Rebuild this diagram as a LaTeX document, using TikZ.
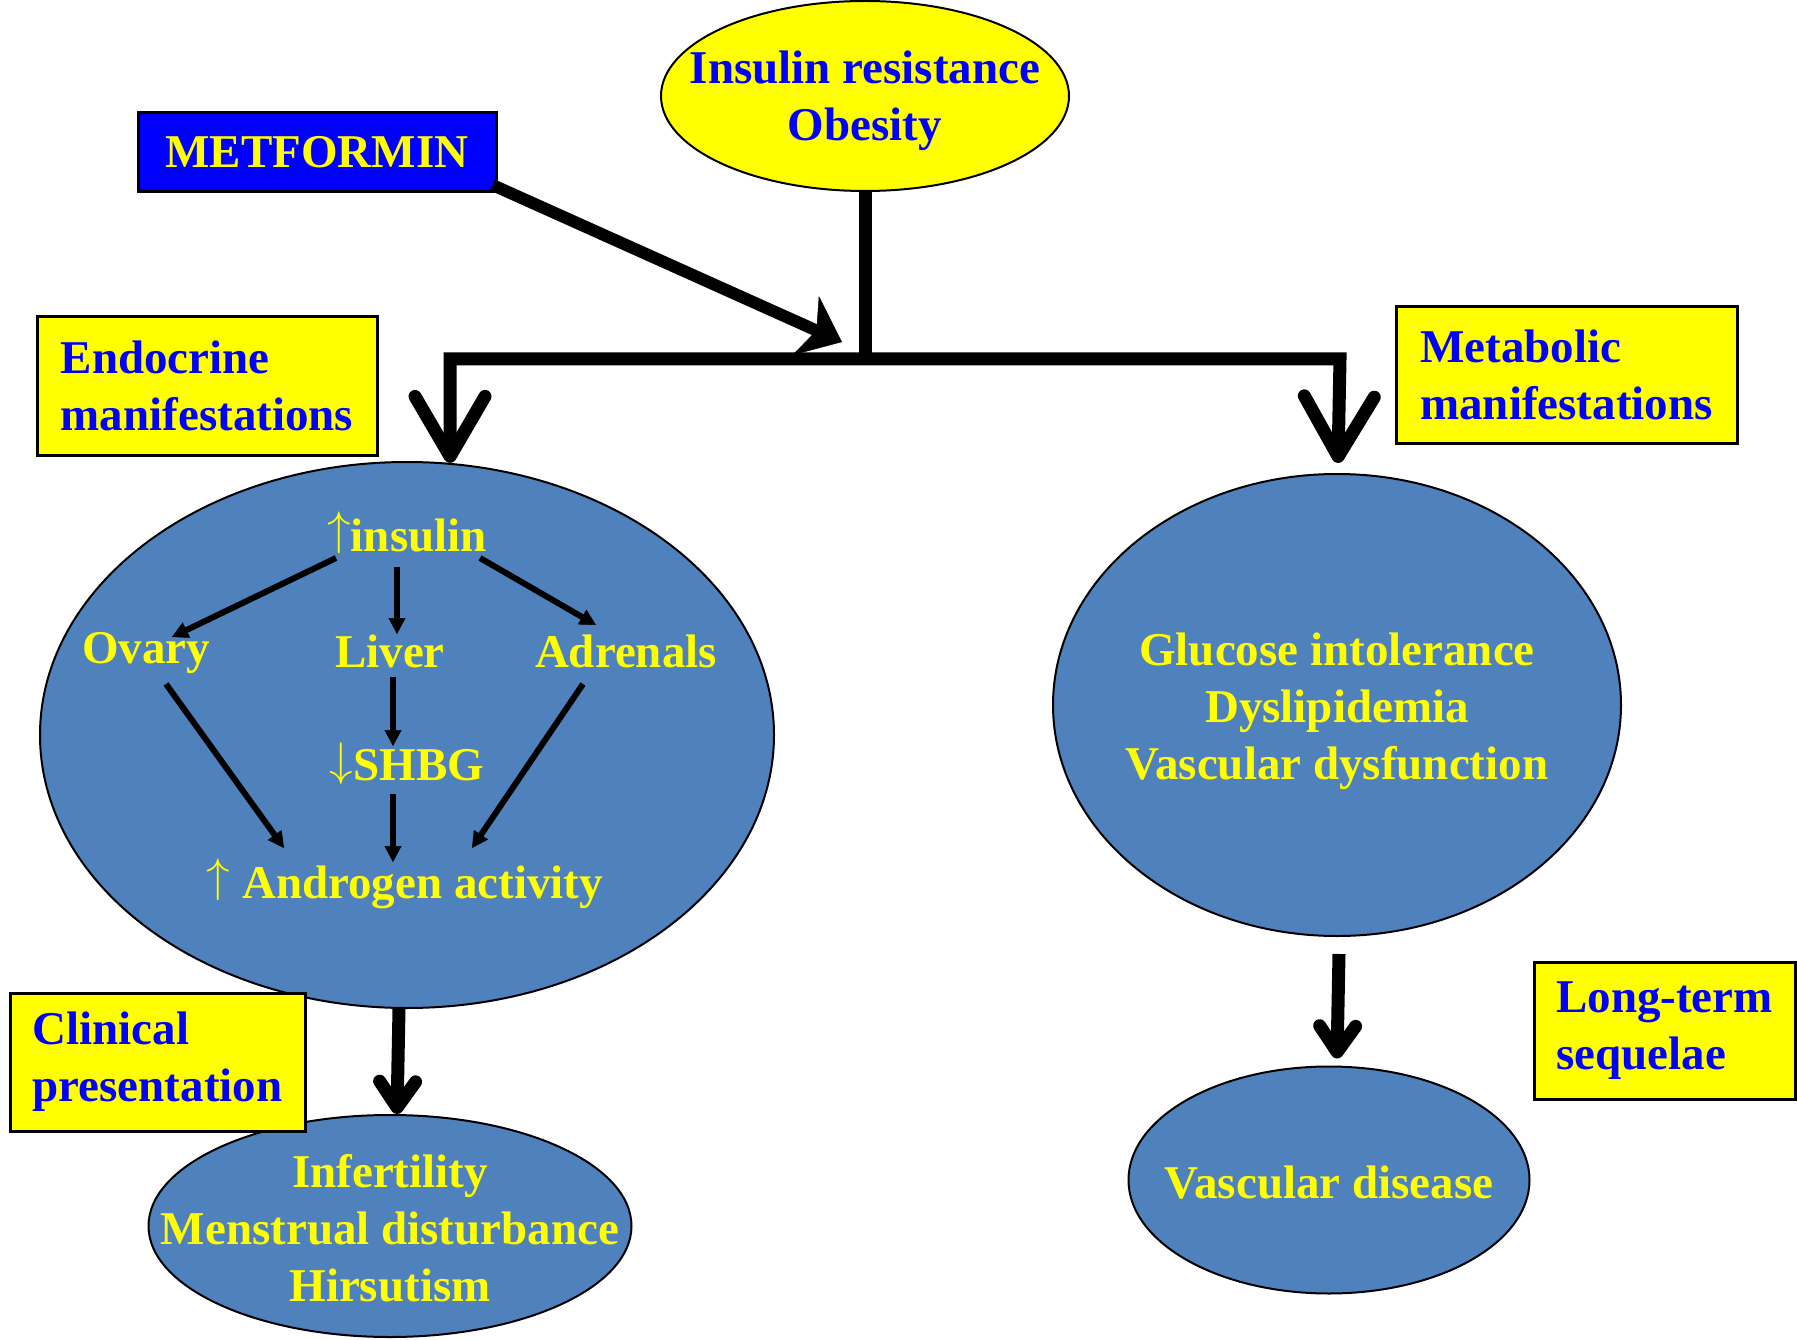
\documentclass[tikz,border=0pt]{standalone}
\usepackage{fix-cm}
\usepackage{fontspec}
\setmainfont{Liberation Serif}
\usetikzlibrary{arrows.meta,shapes.geometric}
\definecolor{ellblue}{RGB}{79,129,189}
\definecolor{txtblue}{RGB}{0,0,255}
\definecolor{yel}{RGB}{255,255,0}
\definecolor{metblue}{RGB}{0,0,255}
\newcommand{\myup}{\raisebox{0.14em}{$\uparrow$}}
\newcommand{\mydown}{\raisebox{0.1em}{$\downarrow$}}
\begin{document}
\begin{tikzpicture}[x=1pt,y=-1pt,
  every node/.style={font=\bfseries\fontsize{47}{57}\selectfont, inner sep=0pt},
  ell/.style={ellipse, draw=black, line width=2pt, fill=ellblue},
  ybox/.style={rectangle, draw=black, line width=3pt, fill=yel, text=txtblue, align=left},
  ytxt/.style={text=yel, align=center},
  mainline/.style={line width=13pt},
  bothbarb/.style={mainline, {Straight Barb[round, length=60pt, width=70pt]}-{Straight Barb[round, length=60pt, width=70pt]}},
  smallbarb/.style={mainline, -{Straight Barb[round, length=26pt, width=36pt]}},
  metarrow/.style={line width=12pt, -{Stealth[length=40pt, width=65pt, inset=12pt, line width=0.5pt]}},
  inarrow/.style={line width=6pt, -{Triangle[length=16pt, width=17pt, line width=0.5pt]}}
]
\useasboundingbox[fill=white] (0,0) rectangle (1797,1340);

% ellipses
\node[ell, fill=yel, minimum width=408pt, minimum height=190pt] (ir) at (865,96) {};
\node[ell, minimum width=734pt, minimum height=546pt] (endo) at (407,735) {};
\node[ell, minimum width=568pt, minimum height=462pt] (meta) at (1337,705) {};
\node[ell, minimum width=483pt, minimum height=222pt] (clin) at (390,1226) {};
\node[ell, minimum width=401pt, minimum height=227pt] (vasc) at (1329,1180) {};

% texts in ellipses
\node[text=txtblue, align=center] (irt) at (865,101) {Insulin resistance\\Obesity};
\node[ytxt] (glu) at (1337,711) {Glucose intolerance\\Dyslipidemia\\Vascular dysfunction};
\node[ytxt] (inf) at (390,1228) {Infertility\\Menstrual disturbance\\Hirsutism};
\node[ytxt] (vd) at (1329,1183) {Vascular disease};

\node[ytxt] (ins) at (407,533) {\myup insulin};
\node[ytxt] (ov) at (146,653) {Ovary};
\node[ytxt] (liv) at (390,651) {Liver};
\node[ytxt] (adr) at (626,651) {Adrenals};
\node[ytxt] (shbg) at (407,764) {\mydown SHBG};
\node[ytxt] (andr) at (405,884) {\myup\ Androgen activity};

% boxes
\node[draw=black, line width=3pt, fill=metblue, text=yel, minimum width=358pt, minimum height=79pt] (met) at (317,152) {METFORMIN};
\node[ybox, minimum width=340pt, minimum height=138pt] (endob) at (207,386) {Endocrine\\manifestations};
\node[ybox, minimum width=341pt, minimum height=136pt] (metab) at (1566.5,375) {Metabolic\\manifestations};
\node[ybox, minimum width=295pt, minimum height=138pt] (clinb) at (157.5,1062) {Clinical\\presentation};
\node[ybox, minimum width=261pt, minimum height=137pt] (ltb) at (1664.5,1031) {Long-term\\sequelae};

% main connectors
\coordinate (lc) at (450,359);
\coordinate (rc) at (1340,359);
\coordinate (rtip) at (1338,463);
\coordinate (mtip) at (842,342);
\draw[mainline] (ir.south) -- (ir.south |- lc);
\draw[bothbarb] (endo.81.6) -- (lc) -- (rc) -- (rtip);
\draw[metarrow] ([shift={(-5,-8)}]met.south east) -- (mtip);
\draw[smallbarb] ([xshift=-8pt]endo.south) -- ([xshift=7pt]clin.north);
\draw[smallbarb] ([shift={(2,17)}]meta.south) -- ([shift={(8,-7)}]vasc.north);

% inner connectors
\draw[inarrow] ([shift={(-71,25)}]ins.center) -- ([shift={(26,-16)}]ov.center);
\draw[inarrow] ([shift={(-10,34)}]ins.center) -- ([shift={(7,-17)}]liv.center);
\draw[inarrow] ([shift={(73,25)}]ins.center) -- ([shift={(-30,-26)}]adr.center);
\draw[inarrow] ([shift={(20,31)}]ov.center) -- ([shift={(-121,-36)}]andr.center);
\draw[inarrow] ([shift={(3,26)}]liv.center) -- ([shift={(-14,-18)}]shbg.center);
\draw[inarrow] ([shift={(-14,30)}]shbg.center) -- ([shift={(-12,-22)}]andr.center);
\draw[inarrow] ([shift={(-43,33)}]adr.center) -- ([shift={(67,-36)}]andr.center);
\end{tikzpicture}
\end{document}
